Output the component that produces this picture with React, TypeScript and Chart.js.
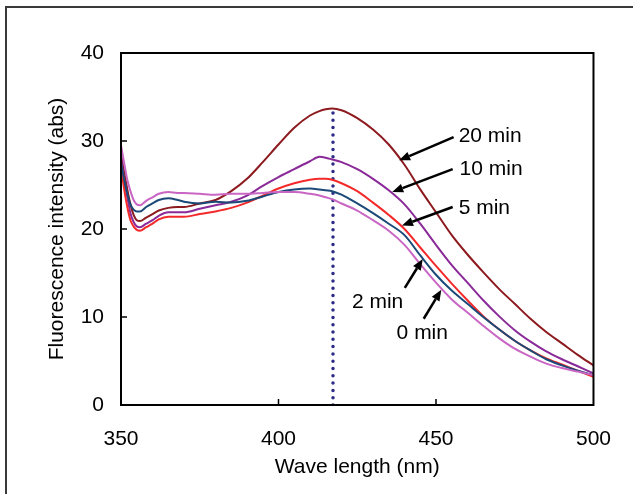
import React, { useEffect, useRef } from "react";
import { Chart, registerables } from "chart.js";

Chart.register(...registerables);

// Wavelength grid (nm)
const wavelengths = [
  350, 351, 352, 353, 354, 355, 356, 358, 360, 362, 365, 368, 370, 375, 380, 385, 390, 395, 400, 405,
  410, 413, 415, 417, 420, 425, 430, 435, 440, 445, 450, 455, 460, 465, 470, 475, 480, 485, 490, 495, 500,
];

// Fluorescence intensity (abs) per time point
const min20 = [
  28.5, 26.5, 24.5, 22.8, 21.6, 21.0, 20.9, 21.3, 21.7, 22.1, 22.4, 22.5, 22.5, 22.9, 23.3, 24.3, 25.7, 27.6, 29.6, 31.5,
  32.9, 33.4, 33.6, 33.7, 33.5, 32.6, 31.3, 29.6, 27.3, 24.5, 21.9, 19.3, 17.1, 15.1, 13.2, 11.5, 9.8, 8.3, 7.0, 5.7, 4.5,
];
const min10 = [
  28.0, 25.5, 23.6, 21.8, 20.8, 20.3, 20.2, 20.6, 21.0, 21.5, 21.9, 21.9, 21.9, 22.3, 22.7, 23.1, 23.8, 24.9, 25.9, 26.8,
  27.7, 28.2, 28.1, 27.9, 27.6, 26.8, 25.7, 24.4, 22.8, 20.6, 18.2, 15.9, 13.9, 11.9, 10.1, 8.5, 7.2, 6.1, 5.2, 4.4, 3.6,
];
const min5 = [
  27.0, 24.5, 22.5, 21.0, 20.3, 19.9, 19.8, 20.2, 20.6, 21.1, 21.4, 21.4, 21.4, 21.7, 22.0, 22.4, 23.0, 23.8, 24.6, 25.2,
  25.6, 25.7, 25.7, 25.6, 25.2, 24.3, 23.0, 21.6, 20.0, 17.9, 15.8, 13.8, 11.9, 10.1, 8.6, 7.3, 6.2, 5.3, 4.6, 3.9, 3.2,
];
const min2 = [
  27.5, 25.6, 24.0, 22.8, 22.2, 22.0, 22.0, 22.5, 22.9, 23.3, 23.5, 23.3, 23.1, 22.9, 23.1, 23.0, 23.2, 23.7, 24.2, 24.5,
  24.6, 24.5, 24.4, 24.3, 23.9, 22.9, 21.8, 20.6, 19.3, 17.0, 14.8, 13.0, 11.5, 10.0, 8.6, 7.3, 6.2, 5.2, 4.5, 3.9, 3.4,
];
const min0 = [
  29.5, 27.5, 25.6, 24.3, 23.3, 22.8, 22.7, 23.2, 23.6, 24.0, 24.2, 24.1, 24.1, 24.0, 23.9, 24.0, 24.0, 24.1, 24.2, 24.2,
  24.0, 23.8, 23.6, 23.4, 22.9, 22.1, 21.0, 19.8, 18.2, 16.0, 13.9, 12.0, 10.5, 9.0, 7.6, 6.4, 5.5, 4.7, 4.2, 3.8, 3.4,
];

const seriesNames = ["0 min", "2 min", "5 min", "10 min", "20 min"];
const seriesValues = [min0, min2, min5, min10, min20];
const seriesColors = ["#C966C4", "#1C4A78", "#F42A2A", "#8A2A98", "#8C1A1E"];

// Dotted marker line at the emission peak
const peakWavelength = 417.3;
const peakTop = 33.7;

const xTicks = [350, 400, 450, 500];
const yTicks = [0, 10, 20, 30, 40];

// Callout labels (text position and arrow tail -> tip, in data units)
const callouts = [
  { text: "20 min", tx: 457.2, ty: 30.5, x1: 455.6, y1: 30.45, x2: 438.3, y2: 27.8 },
  { text: "10 min", tx: 457.5, ty: 26.8, x1: 455.3, y1: 26.8, x2: 436.1, y2: 24.2 },
  { text: "5 min", tx: 457.2, ty: 22.4, x1: 455.3, y1: 22.5, x2: 439.2, y2: 20.4 },
  { text: "2 min", tx: 423.3, ty: 11.7, x1: 440.1, y1: 13.3, x2: 445.8, y2: 16.6 },
  { text: "0 min", tx: 437.5, ty: 8.2, x1: 446.1, y1: 9.8, x2: 451.7, y2: 13.1 },
];

const FONT = "'Liberation Sans', Arial, Helvetica, sans-serif";

const overlayPlugin = {
  id: "overlay",
  afterDatasetsDraw(chart: any) {
    const { ctx, chartArea: a, scales } = chart;
    const x = scales.x;
    const y = scales.y;
    ctx.save();
    // inward tick marks
    ctx.strokeStyle = "#000";
    ctx.lineWidth = 1.5;
    ctx.beginPath();
    x.ticks.forEach((_t: any, i: number) => {
      const px = x.getPixelForTick(i);
      if (px > a.left + 2 && px < a.right - 2) {
        ctx.moveTo(px, a.bottom);
        ctx.lineTo(px, a.bottom - 6);
      }
    });
    y.ticks.forEach((_t: any, i: number) => {
      const py = y.getPixelForTick(i);
      if (py > a.top + 2 && py < a.bottom - 2) {
        ctx.moveTo(a.left, py);
        ctx.lineTo(a.left + 6, py);
      }
    });
    ctx.stroke();
    // frame
    ctx.lineWidth = 2;
    ctx.strokeRect(a.left, a.top, a.right - a.left, a.bottom - a.top);

    // callouts
    ctx.font = `21px ${FONT}`;
    ctx.fillStyle = "#000";
    ctx.textBaseline = "middle";
    ctx.textAlign = "left";
    for (const c of callouts) {
      ctx.fillText(c.text, x.getPixelForValue(c.tx), y.getPixelForValue(c.ty));
      const x1 = x.getPixelForValue(c.x1);
      const y1 = y.getPixelForValue(c.y1);
      const x2 = x.getPixelForValue(c.x2);
      const y2 = y.getPixelForValue(c.y2);
      const ang = Math.atan2(y2 - y1, x2 - x1);
      const headLen = 11;
      const headW = 4.5;
      const bx = x2 - headLen * Math.cos(ang);
      const by = y2 - headLen * Math.sin(ang);
      ctx.strokeStyle = "#000";
      ctx.lineWidth = 2.5;
      ctx.beginPath();
      ctx.moveTo(x1, y1);
      ctx.lineTo(bx, by);
      ctx.stroke();
      ctx.beginPath();
      ctx.moveTo(x2, y2);
      ctx.lineTo(bx + headW * Math.sin(ang), by - headW * Math.cos(ang));
      ctx.lineTo(bx - headW * Math.sin(ang), by + headW * Math.cos(ang));
      ctx.closePath();
      ctx.fill();
    }
    ctx.restore();
  },
};

export default function App() {
  const canvasRef = useRef<HTMLCanvasElement | null>(null);

  useEffect(() => {
    document.body.style.margin = "0";
    const canvas = canvasRef.current;
    if (!canvas) return;

    const datasets: any[] = seriesNames.map((name, i) => ({
      label: name,
      data: wavelengths.map((w, j) => ({ x: w, y: seriesValues[i][j] })),
      borderColor: seriesColors[i],
      backgroundColor: seriesColors[i],
      borderWidth: 2,
      pointRadius: 0,
      fill: false,
      cubicInterpolationMode: "monotone",
    }));
    datasets.push({
      label: "peak",
      data: [
        { x: peakWavelength, y: 0 },
        { x: peakWavelength, y: peakTop },
      ],
      borderColor: "#2C2C86",
      borderWidth: 3.5,
      borderDash: [0, 7.3],
      borderCapStyle: "round",
      pointRadius: 0,
      fill: false,
    });

    const chart = new Chart(canvas, {
      type: "line",
      data: { datasets },
      options: {
        animation: false,
        responsive: false,
        devicePixelRatio: 1,
        layout: { padding: { left: 0, top: 53, right: 39, bottom: 0 } },
        plugins: { legend: { display: false }, tooltip: { enabled: false } },
        scales: {
          x: {
            type: "linear",
            min: 350,
            max: 500,
            afterBuildTicks: (scale: any) => {
              scale.ticks = xTicks.map((v) => ({ value: v }));
            },
            afterFit: (scale: any) => {
              scale.height = 89;
            },
            ticks: { font: { size: 21, family: FONT }, color: "#000", padding: 22, maxRotation: 0 },
            grid: { display: false, drawTicks: false },
            border: { display: false },
            title: {
              display: true,
              text: "Wave length (nm)",
              font: { size: 21, family: FONT },
              color: "#000",
              padding: { top: 0, bottom: 14 },
            },
          },
          y: {
            type: "linear",
            min: 0,
            max: 40,
            afterBuildTicks: (scale: any) => {
              scale.ticks = yTicks.map((v) => ({ value: v }));
            },
            afterFit: (scale: any) => {
              scale.width = 121;
            },
            ticks: { font: { size: 21, family: FONT }, color: "#000", padding: 17 },
            grid: { display: false, drawTicks: false },
            border: { display: false },
            title: {
              display: true,
              text: "Fluorescence intensity (abs)",
              font: { size: 21, family: FONT },
              color: "#000",
              padding: { top: 45, bottom: 0 },
            },
          },
        },
      },
      plugins: [overlayPlugin],
    });
    return () => chart.destroy();
  }, []);

  return (
    <div style={{ position: "fixed", left: 0, top: 0, width: 633, height: 494, background: "#fff" }}>
      <div
        style={{
          position: "absolute",
          left: 5,
          top: 6,
          width: 640,
          height: 500,
          borderTop: "2px solid #3a3a3a",
          borderLeft: "2px solid #3a3a3a",
          boxSizing: "border-box",
        }}
      />
      <canvas ref={canvasRef} width={633} height={494} style={{ position: "absolute", left: 0, top: 0, width: 633, height: 494 }} />
    </div>
  );
}
